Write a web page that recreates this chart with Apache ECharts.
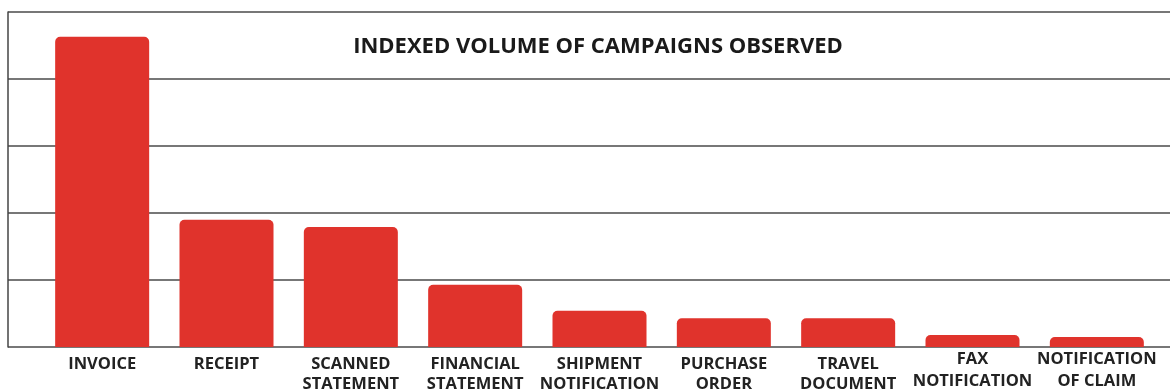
<!DOCTYPE html>
<html>
<head>
<meta charset="utf-8">
<script src="https://cdn.jsdelivr.net/npm/echarts@6/dist/echarts.min.js"></script>
<style>
html, body { margin: 0; padding: 0; background: #fff; }
#chart { width: 1170px; height: 390px; }
</style>
</head>
<body>
<div id="chart"></div>
<script>
// campaign types and indexed volumes
var categories = ['INVOICE', 'RECEIPT', 'SCANNED\nSTATEMENT', 'FINANCIAL\nSTATEMENT', 'SHIPMENT\nNOTIFICATION',
    'PURCHASE\nORDER', 'TRAVEL\nDOCUMENT', 'FAX\nNOTIFICATION', 'NOTIFICATION\nOF CLAIM'];
var volumes = [463, 190, 179, 93, 54, 43, 43, 18, 15];
var yMin = 0, yMax = 500, yStep = 100;

// the last two labels sit a little higher in the original
var raised = ['FAX\nNOTIFICATION', 'NOTIFICATION\nOF CLAIM'];
var categoryData = categories.map(function (c) {
    var up = raised.indexOf(c) >= 0;
    return {
        value: c,
        textStyle: up ? { lineHeight: 22, padding: [0, 0, 0, 0] } : { lineHeight: 20, padding: [6, 0, 0, 0] }
    };
});

var myChart = echarts.init(document.getElementById('chart'));
myChart.setOption({
    animation: false,
    title: {
        text: 'INDEXED VOLUME OF CAMPAIGNS OBSERVED',
        left: 593,
        top: 31,
        textAlign: 'center',
        textStyle: { fontFamily: 'Open Sans', fontWeight: 'bold', fontSize: 22, color: '#1a1a1a' }
    },
    grid: [
        { left: 8, right: 0, top: 12, bottom: 43, outerBoundsMode: 'none' },
        { left: 40, right: 11, top: 12, bottom: 43, outerBoundsMode: 'none' }
    ],
    xAxis: [
        { gridIndex: 0, type: 'value', show: false },
        {
            gridIndex: 1,
            type: 'category',
            data: categoryData,
            axisLine: { show: false },
            axisTick: { show: false },
            axisLabel: {
                interval: 0,
                margin: 1,
                fontFamily: 'Open Sans',
                fontWeight: 'bold',
                fontSize: 16.5,
                color: '#222'
            }
        }
    ],
    yAxis: [
        {
            gridIndex: 0,
            type: 'value',
            min: yMin, max: yMax, interval: yStep,
            axisLine: { show: true, lineStyle: { color: '#444', width: 1.5 } },
            axisTick: { show: false },
            axisLabel: { show: false },
            splitLine: { lineStyle: { color: '#4a4a4a', width: 1.5 } }
        },
        {
            gridIndex: 1,
            type: 'value',
            min: yMin, max: yMax, interval: yStep,
            show: false
        }
    ],
    series: [
        {
            type: 'bar',
            xAxisIndex: 1,
            yAxisIndex: 1,
            data: volumes,
            barWidth: 94,
            itemStyle: { color: '#e0332c', borderRadius: [5, 5, 0, 0] }
        }
    ]
});
</script>
</body>
</html>
